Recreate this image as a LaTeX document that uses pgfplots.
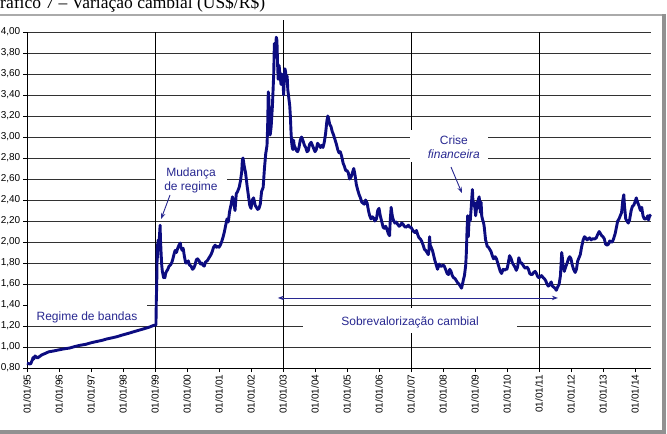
\documentclass[border=0pt]{standalone}
\usepackage{pgfplots}
\pgfplotsset{compat=1.18}
\usepackage{fontspec}
\setmainfont{Liberation Sans}
\newfontfamily\titlefont{Liberation Serif}
\usetikzlibrary{arrows.meta}
\definecolor{navyline}{RGB}{12,12,128}
\definecolor{annot}{RGB}{40,40,145}
\definecolor{gridc}{RGB}{50,50,50}
\definecolor{frameg}{RGB}{170,170,170}
\begin{document}
\begin{tikzpicture}
\useasboundingbox (-27bp,-66bp) rectangle (640bp,368bp);
\clip (-27bp,-66bp) rectangle (640bp,368bp);
\fill[white] (-27bp,-66bp) rectangle (640bp,368bp);
\node[anchor=base west, inner sep=0, font=\titlefont\fontsize{17.5bp}{20bp}\selectfont] at (-39.6bp,359.7bp) {Gráfico 7 – Variação cambial (US\$/R\$)};
\draw[frameg, line width=2bp] (-40bp,353bp) -- (636bp,353bp);
\draw[frameg!85!black, line width=4bp] (637bp,354bp) -- (637bp,-64bp) -- (-40bp,-64bp);
\begin{axis}[
  at={(0,0)}, anchor=south west,
  scale only axis, width=624bp, height=336bp,
  xmin=1995, xmax=2014.5, ymin=0.8, ymax=4.0,
  axis x line=bottom, axis y line=left,
  axis line style={-, black, line width=0.8bp},
  clip=false,
  ytick={0.8,1.0,1.2,1.4,1.6,1.8,2.0,2.2,2.4,2.6,2.8,3.0,3.2,3.4,3.6,3.8,4.0},
  xtick={1995,1996,1997,1998,1999,2000,2001,2002,2003,2004,2005,2006,2007,2008,2009,2010,2011,2012,2013,2014},
  xticklabels={01/01/95,01/01/96,01/01/97,01/01/98,01/01/99,01/01/00,01/01/01,01/01/02,01/01/03,01/01/04,01/01/05,01/01/06,01/01/07,01/01/08,01/01/09,01/01/10,01/01/11,01/01/12,01/01/13,01/01/14},
  tick align=outside, major tick length=4bp,
  tick style={black, line width=0.8bp},
  ymajorgrids, major grid style={gridc, line width=0.9bp},
  ticklabel style={font=\fontsize{10bp}{12bp}\selectfont},
  xticklabel style={rotate=90, anchor=east, inner sep=2.5bp},
  yticklabel style={inner sep=2.5bp},
  /pgf/number format/fixed,
  /pgf/number format/fixed zerofill,
  /pgf/number format/precision=2,
  /pgf/number format/use comma,
  /pgf/number format/assume math mode=true,
]
\draw[black, line width=0.8bp] (axis cs:1999,0.8) -- (axis cs:1999,4.0);
\draw[black, line width=0.8bp] (axis cs:2003,0.8) -- (axis cs:2003,4.114);
\draw[black, line width=0.8bp] (axis cs:2007,0.8) -- (axis cs:2007,4.0);
\draw[black, line width=0.8bp] (axis cs:2011,0.8) -- (axis cs:2011,4.0);
\addplot[navyline, line width=2.9bp, line join=round, mark=none] table {
x y
1995.00 0.846
1995.04 0.843
1995.08 0.838
1995.12 0.842
1995.17 0.880
1995.19 0.900
1995.21 0.885
1995.25 0.915
1995.29 0.905
1995.33 0.895
1995.37 0.905
1995.42 0.915
1995.46 0.925
1995.50 0.930
1995.58 0.940
1995.67 0.953
1995.75 0.958
1995.83 0.962
1995.92 0.968
1996.00 0.973
1996.17 0.983
1996.33 0.990
1996.50 1.005
1996.67 1.017
1996.83 1.025
1997.00 1.040
1997.17 1.052
1997.33 1.062
1997.50 1.077
1997.67 1.088
1997.83 1.100
1998.00 1.116
1998.17 1.130
1998.33 1.145
1998.50 1.160
1998.67 1.175
1998.83 1.190
1998.95 1.205
1999.03 1.210
1999.04 1.430
1999.05 1.550
1999.06 1.700
1999.07 1.980
1999.08 1.850
1999.09 1.930
1999.10 2.020
1999.12 1.920
1999.14 2.060
1999.16 2.160
1999.17 2.030
1999.19 1.900
1999.21 1.780
1999.23 1.720
1999.25 1.690
1999.27 1.660
1999.29 1.670
1999.31 1.660
1999.33 1.700
1999.36 1.720
1999.40 1.740
1999.44 1.770
1999.48 1.780
1999.52 1.800
1999.56 1.840
1999.60 1.890
1999.63 1.920
1999.67 1.900
1999.71 1.940
1999.75 1.970
1999.79 1.990
1999.81 1.950
1999.85 1.920
1999.88 1.940
1999.92 1.860
1999.96 1.800
2000.00 1.800
2000.04 1.820
2000.08 1.780
2000.13 1.770
2000.17 1.740
2000.21 1.750
2000.25 1.780
2000.29 1.830
2000.33 1.840
2000.38 1.820
2000.42 1.790
2000.46 1.800
2000.50 1.780
2000.54 1.770
2000.58 1.810
2000.63 1.820
2000.67 1.840
2000.71 1.860
2000.75 1.880
2000.79 1.910
2000.83 1.950
2000.88 1.970
2000.92 1.950
2000.96 1.960
2001.00 1.950
2001.04 1.970
2001.08 2.000
2001.13 2.050
2001.17 2.100
2001.21 2.160
2001.25 2.220
2001.29 2.190
2001.33 2.290
2001.38 2.360
2001.42 2.430
2001.46 2.380
2001.50 2.300
2001.54 2.460
2001.58 2.480
2001.63 2.520
2001.67 2.580
2001.71 2.670
2001.73 2.780
2001.75 2.800
2001.79 2.720
2001.83 2.660
2001.88 2.530
2001.92 2.440
2001.96 2.350
2002.00 2.320
2002.04 2.400
2002.08 2.420
2002.13 2.350
2002.17 2.330
2002.21 2.310
2002.25 2.320
2002.29 2.360
2002.33 2.480
2002.38 2.520
2002.42 2.700
2002.46 2.840
2002.50 2.920
2002.52 3.100
2002.54 3.430
2002.56 3.350
2002.58 3.050
2002.60 3.020
2002.63 3.100
2002.67 3.300
2002.71 3.600
2002.73 3.890
2002.77 3.850
2002.79 3.950
2002.81 3.920
2002.83 3.700
2002.85 3.550
2002.87 3.620
2002.88 3.680
2002.90 3.600
2002.94 3.500
2002.96 3.600
2003.00 3.530
2003.02 3.400
2003.04 3.550
2003.06 3.650
2003.08 3.620
2003.10 3.550
2003.13 3.580
2003.15 3.450
2003.17 3.400
2003.19 3.350
2003.21 3.300
2003.23 3.200
2003.25 3.050
2003.27 2.950
2003.29 2.900
2003.31 2.880
2003.33 2.970
2003.35 2.920
2003.38 2.900
2003.42 2.870
2003.46 2.860
2003.50 2.900
2003.54 2.970
2003.58 3.000
2003.63 2.960
2003.67 2.920
2003.71 2.900
2003.75 2.860
2003.79 2.870
2003.83 2.930
2003.88 2.950
2003.92 2.920
2003.96 2.890
2004.00 2.860
2004.04 2.880
2004.08 2.940
2004.13 2.920
2004.17 2.900
2004.21 2.920
2004.25 2.900
2004.29 2.950
2004.33 3.030
2004.37 3.150
2004.40 3.200
2004.42 3.180
2004.46 3.120
2004.50 3.100
2004.54 3.050
2004.58 3.020
2004.63 2.970
2004.67 2.930
2004.71 2.880
2004.75 2.850
2004.79 2.860
2004.83 2.820
2004.88 2.750
2004.92 2.720
2004.96 2.680
2005.00 2.680
2005.04 2.660
2005.08 2.600
2005.13 2.620
2005.17 2.660
2005.21 2.700
2005.25 2.640
2005.29 2.550
2005.33 2.500
2005.38 2.450
2005.42 2.420
2005.46 2.380
2005.50 2.370
2005.54 2.360
2005.58 2.400
2005.63 2.370
2005.67 2.300
2005.71 2.250
2005.75 2.220
2005.79 2.240
2005.83 2.230
2005.87 2.200
2005.92 2.220
2005.96 2.300
2006.00 2.320
2006.04 2.250
2006.08 2.200
2006.13 2.140
2006.17 2.130
2006.21 2.150
2006.25 2.120
2006.29 2.080
2006.33 2.060
2006.35 2.200
2006.38 2.330
2006.40 2.280
2006.42 2.240
2006.46 2.200
2006.50 2.180
2006.54 2.190
2006.58 2.170
2006.63 2.150
2006.67 2.160
2006.71 2.180
2006.75 2.170
2006.79 2.150
2006.83 2.140
2006.88 2.150
2006.92 2.160
2006.96 2.140
2007.00 2.140
2007.04 2.120
2007.08 2.100
2007.13 2.090
2007.17 2.110
2007.21 2.070
2007.25 2.040
2007.29 2.030
2007.33 2.010
2007.38 1.970
2007.42 1.930
2007.46 1.920
2007.50 1.900
2007.54 1.880
2007.56 1.920
2007.58 2.050
2007.60 1.970
2007.63 1.950
2007.67 1.920
2007.71 1.870
2007.75 1.820
2007.79 1.780
2007.83 1.740
2007.88 1.790
2007.92 1.770
2007.96 1.770
2008.00 1.780
2008.04 1.770
2008.08 1.740
2008.13 1.700
2008.17 1.690
2008.21 1.740
2008.25 1.720
2008.29 1.680
2008.33 1.660
2008.38 1.650
2008.42 1.630
2008.46 1.610
2008.50 1.600
2008.54 1.580
2008.58 1.560
2008.61 1.600
2008.63 1.630
2008.67 1.680
2008.71 1.780
2008.73 1.900
2008.75 2.100
2008.77 2.250
2008.79 2.050
2008.81 2.180
2008.83 2.250
2008.85 2.200
2008.88 2.320
2008.90 2.420
2008.92 2.500
2008.94 2.350
2008.96 2.380
2009.00 2.320
2009.02 2.250
2009.04 2.300
2009.06 2.380
2009.08 2.320
2009.10 2.400
2009.13 2.430
2009.15 2.360
2009.17 2.280
2009.19 2.380
2009.21 2.250
2009.23 2.220
2009.25 2.200
2009.27 2.180
2009.29 2.140
2009.31 2.080
2009.33 2.020
2009.35 2.000
2009.38 1.960
2009.42 1.950
2009.46 1.930
2009.50 1.910
2009.54 1.870
2009.58 1.840
2009.63 1.860
2009.67 1.840
2009.71 1.800
2009.75 1.760
2009.79 1.720
2009.83 1.700
2009.88 1.740
2009.92 1.730
2009.96 1.740
2010.00 1.740
2010.04 1.800
2010.08 1.870
2010.13 1.840
2010.17 1.800
2010.21 1.780
2010.25 1.760
2010.29 1.730
2010.33 1.760
2010.37 1.850
2010.40 1.820
2010.42 1.800
2010.46 1.800
2010.50 1.780
2010.54 1.760
2010.58 1.750
2010.63 1.760
2010.67 1.740
2010.71 1.700
2010.75 1.690
2010.79 1.690
2010.83 1.710
2010.88 1.720
2010.92 1.700
2010.96 1.670
2011.00 1.660
2011.04 1.670
2011.08 1.680
2011.13 1.660
2011.17 1.650
2011.21 1.630
2011.25 1.600
2011.29 1.580
2011.33 1.590
2011.38 1.620
2011.42 1.580
2011.46 1.570
2011.50 1.560
2011.54 1.540
2011.58 1.570
2011.63 1.600
2011.67 1.680
2011.71 1.900
2011.73 1.850
2011.75 1.780
2011.79 1.720
2011.83 1.760
2011.88 1.800
2011.92 1.840
2011.96 1.860
2012.00 1.840
2012.04 1.780
2012.08 1.740
2012.13 1.710
2012.17 1.740
2012.21 1.820
2012.25 1.850
2012.29 1.880
2012.33 1.950
2012.38 2.020
2012.42 2.050
2012.46 2.040
2012.50 2.020
2012.54 2.030
2012.58 2.040
2012.63 2.020
2012.67 2.030
2012.71 2.030
2012.75 2.030
2012.79 2.040
2012.83 2.070
2012.88 2.100
2012.92 2.080
2012.96 2.060
2013.00 2.050
2013.04 2.030
2013.08 1.980
2013.13 1.970
2013.17 1.980
2013.21 2.010
2013.25 2.000
2013.29 2.000
2013.33 2.030
2013.38 2.080
2013.42 2.140
2013.46 2.200
2013.50 2.220
2013.54 2.250
2013.58 2.280
2013.62 2.400
2013.65 2.450
2013.67 2.350
2013.71 2.220
2013.75 2.200
2013.79 2.180
2013.83 2.210
2013.88 2.300
2013.92 2.340
2013.96 2.350
2014.00 2.380
2014.04 2.420
2014.08 2.380
2014.13 2.340
2014.17 2.300
2014.21 2.330
2014.25 2.250
2014.29 2.220
2014.33 2.220
2014.37 2.230
2014.40 2.250
2014.42 2.210
2014.46 2.250
2014.50 2.260
};
% annotation boxes and text
\fill[white] (axis cs:1995.03,1.419) rectangle (axis cs:1998.75,1.215);
\node[annot, font=\fontsize{12bp}{14bp}\selectfont, inner sep=0] at (axis cs:1996.875,1.286) {Regime de bandas};
\fill[white] (axis cs:2003.625,1.37) rectangle (axis cs:2010.31,1.133);
\node[annot, font=\fontsize{12bp}{14bp}\selectfont, inner sep=0] at (axis cs:2006.97,1.238) {Sobrevalorização cambial};
\draw[annot, line width=0.9bp, {Stealth[length=6bp,width=4.5bp]}-{Stealth[length=6bp,width=4.5bp]}] (axis cs:2002.84,1.467) -- (axis cs:2011.59,1.467);
\fill[white] (axis cs:1999.03,2.77) rectangle (axis cs:2001.25,2.43);
\node[annot, font=\fontsize{12bp}{14.5bp}\selectfont, inner sep=0, align=center] at (axis cs:2000.125,2.586) {Mudança\\de regime};
\draw[annot, line width=0.9bp, -{Stealth[length=6bp,width=4.5bp]}] (axis cs:1999.47,2.448) -- (axis cs:1999.19,2.219);
\fill[white] (axis cs:2006.97,3.067) rectangle (axis cs:2009.41,2.762);
\node[annot, font=\fontsize{12bp}{14bp}\selectfont, inner sep=0, align=center] at (axis cs:2008.34,2.905) {Crise\\\textit{financeira}};
\draw[annot, line width=0.9bp, -{Stealth[length=6bp,width=4.5bp]}] (axis cs:2008.25,2.714) -- (axis cs:2008.59,2.467);
\end{axis}
\end{tikzpicture}
\end{document}
